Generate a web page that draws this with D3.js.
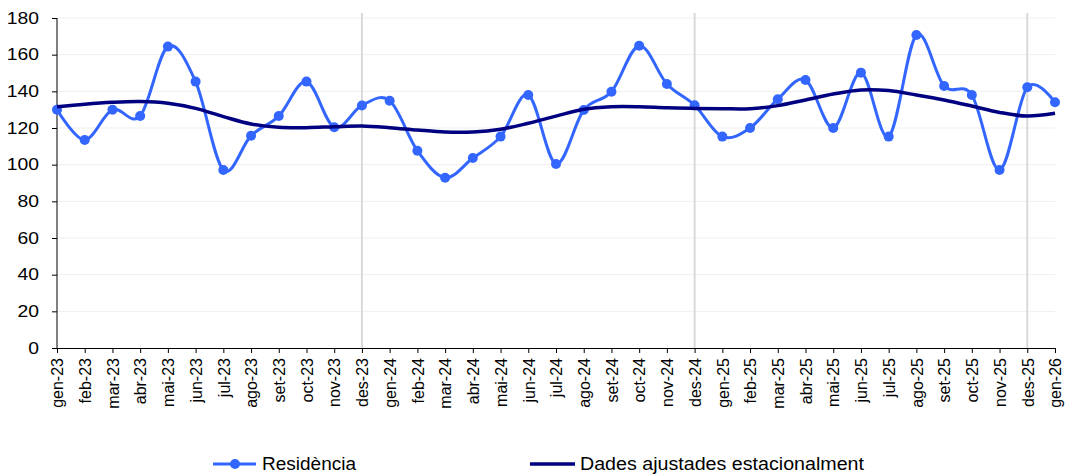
<!DOCTYPE html>
<html>
<head>
<meta charset="utf-8">
<script src="https://cdn.jsdelivr.net/npm/d3@7"></script>
<style>
  body { margin: 0; background: #fff; }
  text { font-family: "Liberation Sans", Arial, sans-serif; fill: #000; }
</style>
</head>
<body>
<script>
// categories (months)
var months = ["gen-23","feb-23","mar-23","abr-23","mai-23","jun-23","jul-23","ago-23","set-23","oct-23","nov-23","des-23",
              "gen-24","feb-24","mar-24","abr-24","mai-24","jun-24","jul-24","ago-24","set-24","oct-24","nov-24","des-24",
              "gen-25","feb-25","mar-25","abr-25","mai-25","jun-25","jul-25","ago-25","set-25","oct-25","nov-25","des-25",
              "gen-26"];

var residencia = [130, 113.5, 130, 126.5, 164.4, 145.3, 97.1, 115.8, 126.5, 145.3, 120.4, 132.3,
                  134.9, 107.6, 92.9, 103.6, 115.3, 138, 100.4, 129.8, 139.8, 164.9, 144, 132.4,
                  115.3, 120, 135.7, 146.2, 120, 150.2, 115.3, 170.7, 142.9, 138, 97.1, 142.2,
                  134];

var ajustades = [131.6, 133, 134, 134.4, 133.5, 130.7, 126.2, 122.2, 120.4, 120.2, 120.7, 121.1,
                 120.2, 118.9, 117.8, 117.8, 119.3, 122.6, 126.5, 130.2, 131.6, 131.6, 131, 130.7,
                 130.5, 130.5, 132.2, 135.3, 138.5, 140.7, 140.4, 138, 135.3, 132, 128.5, 126.5,
                 128];

var yTicks = [0, 20, 40, 60, 80, 100, 120, 140, 160, 180];
var separators = ["des-23", "des-24", "des-25"];

var width = 1066, height = 475;
var svg = d3.select("body").append("svg")
    .attr("width", width)
    .attr("height", height);

var x = d3.scalePoint().domain(months).range([57, 1055]);
var y = d3.scaleLinear().domain([0, 180]).range([348, 18]);

// text in the original looks stretched sideways a bit
function widen(sel, k) {
    sel.each(function () {
        var w = this.getComputedTextLength();
        d3.select(this).attr("textLength", w * k).attr("lengthAdjust", "spacingAndGlyphs");
    });
}

// horizontal grid
svg.append("g").selectAll("line")
    .data(yTicks.filter(function (d) { return d > 0; }))
    .enter().append("line")
    .attr("x1", 57).attr("x2", 1055)
    .attr("y1", function (d) { return y(d); })
    .attr("y2", function (d) { return y(d); })
    .attr("stroke", "#efefef").attr("stroke-width", 1);

// year separators
svg.append("g").selectAll("line")
    .data(separators)
    .enter().append("line")
    .attr("x1", function (d) { return x(d); })
    .attr("x2", function (d) { return x(d); })
    .attr("y1", 13).attr("y2", 348)
    .attr("stroke", "#d9d9d9").attr("stroke-width", 2);

// y axis
var yAxis = svg.append("g")
    .attr("transform", "translate(57,0)")
    .call(d3.axisLeft(y).tickValues(yTicks).tickSize(5).tickPadding(13));
yAxis.select(".domain").attr("stroke", "#000").attr("d", "M0,18V348");
yAxis.selectAll(".tick line").attr("stroke", "#000");
yAxis.selectAll(".tick text")
    .style("font-family", "Liberation Sans, Arial, sans-serif")
    .style("font-size", "16.5px").attr("fill", "#000")
    .call(widen, 1.17);

// x axis
var xAxis = svg.append("g")
    .attr("transform", "translate(0,348)")
    .call(d3.axisBottom(x).tickSize(5).tickSizeOuter(0));
xAxis.select(".domain").attr("stroke", "#000");
xAxis.selectAll(".tick line").attr("stroke", "#000");
xAxis.selectAll(".tick text")
    .style("font-family", "Liberation Sans, Arial, sans-serif")
    .style("font-size", "16px").attr("fill", "#000")
    .attr("transform", "rotate(-90)")
    .attr("text-anchor", "end")
    .attr("x", -10).attr("y", 0).attr("dy", "0.36em");

var line = d3.line()
    .x(function (d, i) { return x(months[i]); })
    .y(function (d) { return y(d); })
    .curve(d3.curveCardinal.tension(0));

// residencia series
svg.append("path")
    .datum(residencia)
    .attr("d", line)
    .attr("fill", "none")
    .attr("stroke", "#3366ff")
    .attr("stroke-width", 3);

svg.append("g").selectAll("circle")
    .data(residencia)
    .enter().append("circle")
    .attr("cx", function (d, i) { return x(months[i]); })
    .attr("cy", function (d) { return y(d); })
    .attr("r", 5)
    .attr("fill", "#3366ff");

// seasonally adjusted
svg.append("path")
    .datum(ajustades)
    .attr("d", line)
    .attr("fill", "none")
    .attr("stroke", "#000080")
    .attr("stroke-width", 3.5);

// legend
var lg = svg.append("g").style("font-size", "17.5px");
lg.append("line").attr("x1", 213).attr("x2", 256).attr("y1", 464).attr("y2", 464)
    .attr("stroke", "#3366ff").attr("stroke-width", 3);
lg.append("circle").attr("cx", 235).attr("cy", 464).attr("r", 5).attr("fill", "#3366ff");
lg.append("text").attr("x", 262).attr("y", 470).text("Residència")
    .attr("textLength", 94).attr("lengthAdjust", "spacingAndGlyphs");
lg.append("line").attr("x1", 530).attr("x2", 575).attr("y1", 464).attr("y2", 464)
    .attr("stroke", "#000080").attr("stroke-width", 3.5);
lg.append("text").attr("x", 580).attr("y", 470).text("Dades ajustades estacionalment")
    .attr("textLength", 284).attr("lengthAdjust", "spacingAndGlyphs");
</script>
</body>
</html>
